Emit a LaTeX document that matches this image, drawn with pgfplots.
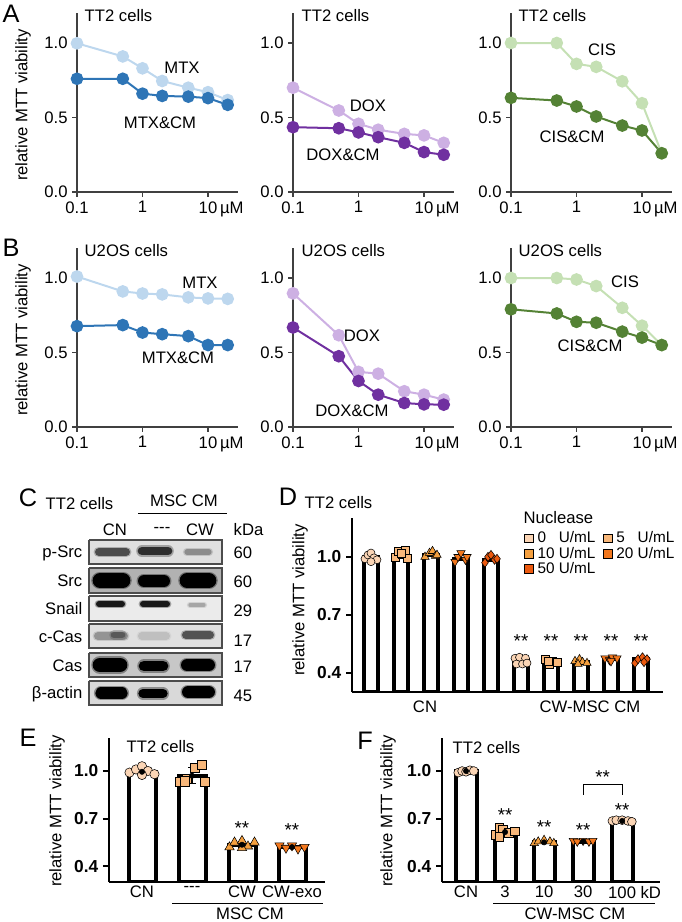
\documentclass[border=0pt]{standalone}
\usepackage{fontspec}
\setmainfont{Liberation Sans}
\usepackage{pgfplots}
\pgfplotsset{compat=1.18}
\definecolor{mtxL}{HTML}{BDD7EE}
\definecolor{mtxD}{HTML}{2E75B6}
\definecolor{doxL}{HTML}{CDB0E3}
\definecolor{doxD}{HTML}{7030A0}
\definecolor{cisL}{HTML}{C5E0B4}
\definecolor{cisD}{HTML}{548235}
\definecolor{c0}{HTML}{FBD5B5}
\definecolor{c5}{HTML}{F8B77A}
\definecolor{c10}{HTML}{F5A03F}
\definecolor{c20}{HTML}{F3781E}
\definecolor{c50}{HTML}{EC5A10}
\newcommand{\fs}{\fontsize{12.5}{14}\selectfont}
\newcommand{\fa}{\fontsize{14}{15}\selectfont}
\newcommand{\fb}{\fontsize{13}{15}\selectfont\bfseries}
\newcommand{\fL}{\fontsize{19}{20}\selectfont}
\newcommand{\band}[5]{\addplot[line width=#4+2.2pt, line cap=round, color=#5, opacity=0.35] coordinates {(#1,#3)(#2,#3)};\addplot[line width=#4, line cap=round, color=#5] coordinates {(#1,#3)(#2,#3)};}
\newcommand{\blotbox}[3]{\addplot[draw=black!70, line width=0.9pt, fill=#3] coordinates {(89,#1)(222,#1)(222,#2)(89,#2)(89,#1)};}
\pgfplotsset{
 lineax/.style={scale only axis, anchor=south west, xmin=0.1, xmax=28.7, ymin=0, ymax=1.2, width=120.75pt, height=134.1pt,
   axis lines=left, axis line style={-, line width=0.8pt, black!75}, tick style={line width=0.8pt, black!75},
   tick align=outside, major tick length=3.5pt, xminorticks=false, xtick={0.1,1,10}, xticklabels={0.1,1,10\rlap{\,µM}},
   ytick={0,0.5,1}, yticklabels={0.0,0.5,1.0}, tick label style={font=\fs}, clip=false},
 lt/.style={line width=1.5pt, color=#1, mark=*, mark size=4pt, mark options={solid, fill=#1, draw=#1}},
 barax/.style={scale only axis, anchor=south west, axis lines=left, axis line style={-, line width=1.6pt, black},
   ytick style={line width=1.6pt, black}, xtick style={draw=none}, tick align=outside, major tick length=4.5pt,
   ymin=0.3, ytick={0.4,0.7,1.0}, yticklabels={0.4,0.7,1.0}, yticklabel style={font=\fb}, xticklabel style={font=\fs, yshift=5pt}},
 bars/.style={ybar, bar shift=0pt, bar width=#1, fill=white, draw=black, line width=3pt, forget plot},
 pts/.style n args={3}{only marks, mark=#1, mark size=#3, mark options={fill=#2, draw=black, line width=0.4pt}, forget plot},
 ptsdown/.style n args={2}{only marks, mark=triangle*, mark size=#2, mark options={fill=#1, draw=black, line width=0.4pt, rotate=180}, forget plot},
 ebar/.style={only marks, mark=none, forget plot, error bars/.cd, y dir=both, y explicit, error bar style={line width=0.8pt, black}, error mark options={rotate=90, mark size=3pt, line width=0.8pt, black}},
}
\begin{document}
\begin{tikzpicture}[x=0.75pt,y=-0.75pt]
\path[use as bounding box] (0,0) rectangle (682,922);
% ---------- Row A ----------
\begin{axis}[xmode=log, lineax, at={(57.75pt,-144pt)}]
\addplot[lt=mtxL] coordinates {(0.1,0.998)(0.5,0.91)(1,0.83)(2,0.745)(5,0.70)(10,0.67)(20,0.617)};
\addplot[lt=mtxD] coordinates {(0.1,0.76)(0.5,0.76)(1,0.66)(2,0.645)(5,0.64)(10,0.63)(20,0.585)};
\end{axis}
\begin{axis}[xmode=log, lineax, at={(219.75pt,-144pt)}]
\addplot[lt=doxL] coordinates {(0.1,0.70)(0.5,0.547)(1,0.458)(2,0.418)(5,0.39)(10,0.38)(20,0.33)};
\addplot[lt=doxD] coordinates {(0.1,0.435)(0.5,0.428)(1,0.40)(2,0.368)(5,0.33)(10,0.268)(20,0.25)};
\end{axis}
\begin{axis}[xmode=log, lineax, at={(383.25pt,-144pt)}]
\addplot[lt=cisL] coordinates {(0.1,1.0)(0.5,1.0)(1,0.86)(2,0.84)(5,0.743)(10,0.596)(20,0.26)};
\addplot[lt=cisD] coordinates {(0.1,0.632)(0.5,0.614)(1,0.574)(2,0.507)(5,0.446)(10,0.413)(20,0.26)};
\end{axis}
% ---------- Row B ----------
\begin{axis}[xmode=log, lineax, at={(57.75pt,-320.25pt)}]
\addplot[lt=mtxL] coordinates {(0.1,1.01)(0.5,0.91)(1,0.896)(2,0.89)(5,0.87)(10,0.863)(20,0.86)};
\addplot[lt=mtxD] coordinates {(0.1,0.677)(0.5,0.684)(1,0.634)(2,0.623)(5,0.61)(10,0.55)(20,0.55)};
\end{axis}
\begin{axis}[xmode=log, lineax, at={(219.75pt,-320.25pt)}]
\addplot[lt=doxL] coordinates {(0.1,0.897)(0.5,0.616)(1,0.37)(2,0.358)(5,0.24)(10,0.217)(20,0.184)};
\addplot[lt=doxD] coordinates {(0.1,0.668)(0.5,0.475)(1,0.309)(2,0.217)(5,0.161)(10,0.152)(20,0.15)};
\end{axis}
\begin{axis}[xmode=log, lineax, at={(383.25pt,-320.25pt)}]
\addplot[lt=cisL] coordinates {(0.1,1.0)(0.5,1.0)(1,0.99)(2,0.946)(5,0.80)(10,0.68)(20,0.55)};
\addplot[lt=cisD] coordinates {(0.1,0.79)(0.5,0.762)(1,0.706)(2,0.70)(5,0.64)(10,0.60)(20,0.55)};
\end{axis}
% texts rows A,B
\node[font=\fL] at (11,14) {A};
\node[font=\fL] at (11,248) {B};
\node[font=\fs, rotate=90] at (23,105) {relative MTT viability};
\node[font=\fs, rotate=90] at (23,340) {relative MTT viability};
\foreach \xx in {80,297,514}{
  \node[font=\fs, anchor=west] at (\xx,16) {TT2 cells};
  \node[font=\fs, anchor=west] at (\xx,251) {U2OS cells};
}
\node[font=\fs] at (182,68) {MTX};
\node[font=\fs] at (160,123) {MTX\&CM};
\node[font=\fs] at (368,106) {DOX};
\node[font=\fs] at (343,155) {DOX\&CM};
\node[font=\fs] at (602,50) {CIS};
\node[font=\fs] at (572,137) {CIS\&CM};
\node[font=\fs] at (200,283) {MTX};
\node[font=\fs] at (178,358) {MTX\&CM};
\node[font=\fs] at (362,336) {DOX};
\node[font=\fs] at (352,411) {DOX\&CM};
\node[font=\fs] at (625,282) {CIS};
\node[font=\fs] at (590,346) {CIS\&CM};
% ---------- Panel C (blot) ----------
\begin{axis}[scale only axis, anchor=south west, at={(64.5pt,-531pt)}, width=105pt, height=129pt,
  xmin=86, xmax=226, ymin=536, ymax=708, y dir=reverse, hide axis, clip=false]
\blotbox{540}{564}{black!12}
\band{99}{126}{552}{6pt}{black!70}
\band{142}{168}{551}{6.5pt}{black!82}
\band{187}{209}{552}{4pt}{black!45}
\blotbox{568}{593}{black!30}
\band{100}{123}{580.5}{11pt}{black}
\band{144}{164}{581}{9pt}{black}
\band{187}{209}{580.5}{11pt}{black}
\blotbox{596}{621}{black!8}
\band{99}{122}{604}{4.5pt}{black!90}
\band{143}{167}{604}{4.5pt}{black!90}
\band{190}{204}{605}{2.5pt}{black!35}
\blotbox{624}{648}{black!12}
\band{98}{124}{636}{6pt}{black!42}
\band{114}{122}{635}{5pt}{black!65}
\band{142}{166}{636}{6pt}{black!25}
\band{186}{210}{635}{6pt}{black!68}
\blotbox{653}{677}{black!22}
\band{100}{120}{665}{11pt}{black}
\band{144}{163}{666}{8pt}{black}
\band{187}{209}{665}{9pt}{black}
\blotbox{681}{705}{black!15}
\band{101}{122}{693}{8.5pt}{black}
\band{143}{163}{693.5}{7pt}{black}
\band{188}{209}{692}{9pt}{black}
\end{axis}
\node[font=\fL] at (28,498) {C};
\node[font=\fs, anchor=west] at (41,504) {TT2 cells};
\node[font=\fs] at (184,501) {MSC CM};
\draw[line width=0.7pt] (138,513) -- (227,513);
\node[font=\fs] at (115,530) {CN};
\node[font=\fs] at (162,530) {-{}-{}-};
\node[font=\fs] at (200,530) {CW};
\node[font=\fs, anchor=west] at (229,530) {kDa};
\foreach \lab/\yy in {p-Src/553,Src/581,Snail/609,c-Cas/637,Cas/666,β-actin/694}
  \node[font=\fs, anchor=east] at (87,\yy) {\lab};
\foreach \lab/\yy in {60/553,60/582,29/611,17/641,17/667,45/696}
  \node[font=\fs, anchor=west] at (229,\yy) {\lab};
% ---------- Panel D ----------
\begin{axis}[barax, at={(264pt,-519pt)}, width=233.25pt, height=130.3pt, xmin=0.367, xmax=10.733, ymax=1.2, xtick=\empty,
  legend columns=2, legend cell align=left,
  legend style={at={(axis description cs:0.552,0.935)}, anchor=north west, draw=none, fill=none, inner sep=0pt,
    row sep=-1.5pt, font=\fontsize{11.5}{12}\selectfont, nodes={inner sep=1.5pt},
    /tikz/every odd column/.append style={column sep=1.5pt},
    /tikz/every even column/.append style={column sep=4pt}}]
\addplot[bars=10.5pt] coordinates {(1,1.0)(2,1.01)(3,1.01)(4,0.99)(5,0.985)(6,0.465)(7,0.46)(8,0.455)(9,0.47)(10,0.47)};
\addplot[pts={*}{c0}{3pt}] coordinates {(0.8,0.99)(0.9,1.01)(1.0,1.02)(1.1,0.995)(1.2,0.985)(1.0,0.975)
  (5.8,0.475)(5.95,0.48)(6.15,0.475)(5.85,0.445)(6.05,0.445)(6.2,0.45)};
\addplot[pts={square*}{c5}{3pt}] coordinates {(1.8,1.0)(1.9,1.03)(2.05,1.015)(2.15,1.035)(2.2,0.995)(2.0,1.02)
  (6.8,0.47)(6.95,0.445)(7.05,0.46)(7.2,0.455)(6.9,0.46)};
\addplot[pts={triangle*}{c10}{3.6pt}] coordinates {(2.8,1.0)(2.95,1.02)(3.05,1.03)(3.15,1.005)(3.2,1.01)
  (7.8,0.46)(7.95,0.47)(8.05,0.455)(8.2,0.45)(7.9,0.445)};
\addplot[ptsdown={c20}{3.6pt}] coordinates {(3.8,0.975)(3.9,1.0)(4.0,1.02)(4.15,0.985)(4.2,1.0)
  (8.8,0.475)(8.95,0.465)(9.05,0.48)(9.2,0.475)(9.0,0.46)};
\addplot[pts={diamond*}{c50}{3.4pt}] coordinates {(4.8,0.97)(4.9,1.0)(5.0,1.01)(5.12,0.985)(5.2,0.99)
  (9.8,0.45)(9.9,0.47)(10.05,0.48)(10.2,0.47)(10.1,0.455)};
\node[font=\fa] at (axis cs:6,0.565) {**};
\node[font=\fa] at (axis cs:7,0.565) {**};
\node[font=\fa] at (axis cs:8,0.565) {**};
\node[font=\fa] at (axis cs:9,0.565) {**};
\node[font=\fa] at (axis cs:10,0.565) {**};
\addlegendimage{legend image code/.code={\draw[fill=c0, draw=black, line width=0.6pt] (0pt,-3.3pt) rectangle (6.6pt,3.3pt);}}
\addlegendentry{0\hphantom{0} U/mL}
\addlegendimage{legend image code/.code={\draw[fill=c5, draw=black, line width=0.6pt] (0pt,-3.3pt) rectangle (6.6pt,3.3pt);}}
\addlegendentry{5\hphantom{0} U/mL}
\addlegendimage{legend image code/.code={\draw[fill=c10, draw=black, line width=0.6pt] (0pt,-3.3pt) rectangle (6.6pt,3.3pt);}}
\addlegendentry{10 U/mL}
\addlegendimage{legend image code/.code={\draw[fill=c20, draw=black, line width=0.6pt] (0pt,-3.3pt) rectangle (6.6pt,3.3pt);}}
\addlegendentry{20 U/mL}
\addlegendimage{legend image code/.code={\draw[fill=c50, draw=black, line width=0.6pt] (0pt,-3.3pt) rectangle (6.6pt,3.3pt);}}
\addlegendentry{50 U/mL}
\end{axis}
\node[font=\fL] at (288,497) {D};
\node[font=\fs, anchor=west] at (300,503) {TT2 cells};
\node[font=\fs, anchor=west] at (519,518) {Nuclease};
\node[font=\fs, rotate=90] at (300,600) {relative MTT viability};
\node[font=\fs] at (425,707) {CN};
\node[font=\fs] at (590,707) {CW-MSC CM};
% ---------- Panel E ----------
\begin{axis}[barax, at={(81.75pt,-661.5pt)}, width=162pt, height=108pt, xmin=0.34, xmax=4.66, ymax=1.208,
  xtick={1,2,3,4}, xticklabels={CN,-{}-{}-,CW,CW-exo}]
\addplot[bars=20.25pt] coordinates {(1,0.995)(2,0.97)(3,0.535)(4,0.52)};
\addplot[pts={*}{c0}{3.5pt}] coordinates {(0.75,0.99)(0.88,1.01)(1.0,1.03)(1.12,1.0)(1.25,0.98)(1.0,0.975)};
\addplot[pts={square*}{c5}{3.5pt}] coordinates {(1.75,0.93)(1.9,0.95)(2.05,1.02)(2.2,1.04)(2.25,0.93)(1.85,0.935)};
\addplot[pts={triangle*}{c10}{4pt}] coordinates {(2.75,0.52)(2.85,0.55)(3.0,0.56)(3.12,0.525)(3.25,0.55)(3.0,0.515)};
\addplot[ptsdown={c20}{4pt}] coordinates {(3.75,0.53)(3.88,0.515)(4.0,0.53)(4.12,0.51)(4.25,0.52)};
\addplot[ebar] coordinates {(1,0.995) +- (0,0.02) (2,0.97) +- (0,0.05) (3,0.535) +- (0,0.02) (4,0.52) +- (0,0.01)};
\node[font=\fa] at (axis cs:3,0.64) {**};
\node[font=\fa] at (axis cs:4,0.628) {**};
\end{axis}
\node[font=\fL] at (28,738) {E};
\node[font=\fs, anchor=west] at (122,747) {TT2 cells};
\node[font=\fs, rotate=90] at (57,811) {relative MTT viability};
\draw[line width=0.7pt] (172,903) -- (323,903);
\node[font=\fs] at (250,914) {MSC CM};
% ---------- Panel F ----------
\begin{axis}[barax, at={(331.5pt,-661.5pt)}, width=163.5pt, height=108pt, xmin=0.385, xmax=5.97, ymax=1.208,
  xtick={1,2,3,4,5}, xticklabels={CN,3,10,30,100\rlap{ kD}}]
\addplot[bars=15.75pt] coordinates {(1,1.0)(2,0.615)(3,0.55)(4,0.555)(5,0.685)};
\addplot[pts={*}{c0}{3.3pt}] coordinates {(0.8,0.99)(0.9,1.0)(1.0,0.995)(1.1,1.005)(1.2,1.0)
  (4.75,0.685)(4.85,0.69)(5.0,0.69)(5.15,0.685)(5.25,0.68)};
\addplot[pts={square*}{c5}{3.3pt}] coordinates {(1.75,0.6)(1.85,0.64)(1.95,0.63)(2.1,0.61)(2.25,0.62)(1.85,0.585)};
\addplot[pts={triangle*}{c10}{3.6pt}] coordinates {(2.75,0.545)(2.85,0.555)(3.0,0.565)(3.15,0.555)(3.25,0.545)};
\addplot[ptsdown={c20}{3.6pt}] coordinates {(3.75,0.56)(3.85,0.555)(4.0,0.56)(4.15,0.555)(4.25,0.56)};
\addplot[ebar] coordinates {(1,1.0) +- (0,0.01) (2,0.615) +- (0,0.02) (3,0.55) +- (0,0.01) (4,0.555) +- (0,0.005) (5,0.685) +- (0,0.005)};
\node[font=\fa] at (axis cs:2,0.722) {**};
\node[font=\fa] at (axis cs:3,0.647) {**};
\node[font=\fa] at (axis cs:4,0.628) {**};
\node[font=\fa] at (axis cs:5,0.754) {**};
\draw[line width=0.8pt] (axis cs:4,0.85) -- (axis cs:4,0.912) -- (axis cs:5,0.912) -- (axis cs:5,0.85);
\node[font=\fa] at (axis cs:4.5,0.962) {**};
\end{axis}
\node[font=\fL] at (365,741) {F};
\node[font=\fs, anchor=west] at (448,748) {TT2 cells};
\node[font=\fs, rotate=90] at (388,811) {relative MTT viability};
\draw[line width=0.7pt] (493,903) -- (655,903);
\node[font=\fs] at (575,914) {CW-MSC CM};
\end{tikzpicture}
\end{document}
